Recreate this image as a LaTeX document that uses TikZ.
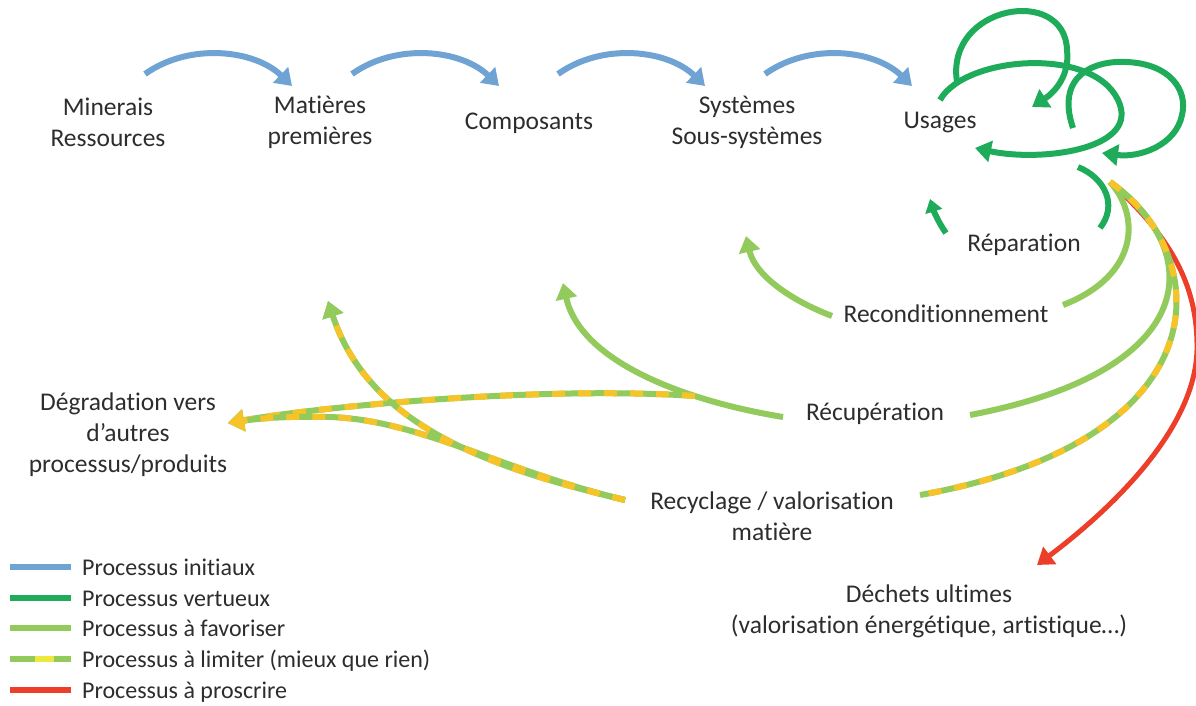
\documentclass[tikz,border=0pt]{standalone}
\usepackage{fontspec}
\setmainfont{Carlito}[Ligatures=NoCommon]
\usetikzlibrary{arrows.meta}
\definecolor{cblue}{RGB}{110,163,212}
\definecolor{cdgreen}{RGB}{30,172,90}
\definecolor{clgreen}{RGB}{146,202,92}
\definecolor{cyellow}{RGB}{246,196,40}
\definecolor{clyellow}{RGB}{238,232,60}
\definecolor{cred}{RGB}{236,62,40}
\definecolor{ctext}{RGB}{45,45,45}
\begin{document}
\begin{tikzpicture}[x=1pt,y=-1pt,
  lbl/.style={text=ctext,font=\fontsize{25.5}{31}\selectfont,align=center,inner sep=0pt},
  leglbl/.style={text=ctext,font=\fontsize{24}{28}\selectfont,anchor=base west,inner sep=0pt},
  arrowhd/.style={-{Triangle[length=16pt,width=21pt]}},
  smallhd/.style={-{Triangle[length=13pt,width=17pt]}},
  yhd/.style={-{Triangle[length=16pt,width=21pt,color=cyellow]}},
  ghd/.style={-{Triangle[length=16pt,width=21pt,color=clgreen]}},
  initarrow/.style={draw=cblue,line width=6pt,arrowhd},
  virtline/.style={draw=cdgreen,line width=6pt},
  virtarrow/.style={virtline,arrowhd},
  favline/.style={draw=clgreen,line width=6pt},
  favarrow/.style={favline,arrowhd},
  limbase/.style={draw=clgreen,line width=6pt},
  limdash/.style={draw=cyellow,line width=6pt,dash pattern=on 13pt off 13pt},
  banarrow/.style={draw=cred,line width=5pt,arrowhd},
  legline/.style={line width=6pt},
]
\useasboundingbox (0,0) rectangle (1196,705);

% ---------- labels ----------
\node[lbl] (min) at (108,122) {Minerais\\Ressources};
\node[lbl] (mat) at (320,122) {Matières\\premières};
\node[lbl] (comp) at (529,123) {Composants};
\node[lbl] (sys) at (747,122) {Systèmes\\Sous-systèmes};
\node[lbl] (use) at (940,123) {Usages};
\node[lbl] (rep) at (1024,245) {Réparation};
\node[lbl] (recond) at (946,314) {Reconditionnement};
\node[lbl] (recup) at (875,414) {Récupération};
\node[lbl] (recyc) at (772,516) {Recyclage / valorisation\\matière};
\node[lbl] (dech) at (929,611) {Déchets ultimes\\(valorisation énergétique, artistique…)};
\node[lbl] (degr) at (128,435) {Dégradation vers\\d’autres\\processus/produits};

% ---------- connector end points ----------
\coordinate (b1s) at (145,74);  \coordinate (b1e) at (292,86);
\coordinate (b2s) at (352,74);  \coordinate (b2e) at (499,86);
\coordinate (b3s) at (558,74);  \coordinate (b3e) at (705,86);
\coordinate (b4s) at (765,74);  \coordinate (b4e) at (912,86);

\coordinate (l1s) at (957,82);   \coordinate (l1e) at (1032,107);
\coordinate (l2s) at (940,100);  \coordinate (l2e) at (975,148);
\coordinate (l3s) at (1073,128); \coordinate (l3e) at (1102,153);
\coordinate (r1s) at (1078,167); \coordinate (r1e) at (1100,228);
\coordinate (r2s) at (946,233);  \coordinate (r2e) at (930,199);

\coordinate (jn) at (1110,182);
\coordinate (rc1e) at (1063,305);
\coordinate (rc2s) at (832,316); \coordinate (rc2e) at (746,236);
\coordinate (ru1e) at (970,415);
\coordinate (ru2s) at (783,417); \coordinate (ru2e) at (563,283);
\coordinate (ry1e) at (920,495);
\coordinate (rd1s) at (695,396);
\coordinate (degtip) at (228,423);
\coordinate (ry2s) at (625,500); \coordinate (ry2e) at (328,301);
\coordinate (dectip) at (1037,565);

% ---------- initial processes (blue) ----------
\foreach \s/\e in {b1s/b1e,b2s/b2e,b3s/b3e,b4s/b4e}
  \draw[initarrow] (\s) .. controls +(45,-32) and +(-37,-36) .. (\e);

% ---------- red ----------
\draw[banarrow] (jn) .. controls (1175,240) and (1198,290) .. (1197,350)
  .. controls (1195,430) and (1110,510) .. (dectip);

% ---------- light green (favoriser) ----------
\draw[favline] (jn) .. controls (1140,215) and (1140,275) .. (rc1e);
\draw[favarrow] (rc2s) .. controls (790,300) and (755,275) .. (rc2e);
\draw[favline] (jn) .. controls (1205,250) and (1205,370) .. (ru1e);
\draw[favarrow] (ru2s) .. controls (680,400) and (580,360) .. (ru2e);

% ---------- limiter (dashed green / yellow) ----------
\draw[limbase] (jn) .. controls (1215,255) and (1225,440) .. (ry1e);
\draw[limdash] (jn) .. controls (1215,255) and (1225,440) .. (ry1e);

\draw[limbase,arrowhd] (rd1s) .. controls (550,386) and (330,405) .. (degtip);
\draw[limdash,yhd] (rd1s) .. controls (550,386) and (330,405) .. (degtip);

\draw[limbase,arrowhd] (ry2s) .. controls (500,470) and (420,420) .. (330,417)
  .. controls (290,416) and (262,418) .. (degtip);
\draw[limdash,yhd] (ry2s) .. controls (500,470) and (420,420) .. (330,417)
  .. controls (290,416) and (262,418) .. (degtip);

\draw[limbase,arrowhd] (ry2s) .. controls (500,470) and (370,430) .. (ry2e);
\draw[limdash,ghd] (ry2s) .. controls (500,470) and (370,430) .. (ry2e);

% ---------- virtuous (dark green) ----------
\draw[virtarrow] (l1s) .. controls (945,5) and (1065,-15) .. (1067,50)
  .. controls (1070,75) and (1055,92) .. (l1e);
\draw[virtarrow] (l2s) .. controls (965,55) and (1100,45) .. (1120,105)
  .. controls (1135,150) and (1040,162) .. (l2e);
\draw[virtarrow] (l3s) .. controls (1055,75) and (1095,60) .. (1127,62)
  .. controls (1170,64) and (1188,90) .. (1182,115)
  .. controls (1176,145) and (1140,158) .. (l3e);
\draw[virtline] (r1s) .. controls (1105,178) and (1118,205) .. (r1e);
\draw[virtline,smallhd] (r2s) .. controls (940,225) and (934,212) .. (r2e);

% ---------- legend ----------
\coordinate (g1a) at (10,567); \coordinate (g1b) at (71,567);
\coordinate (g2a) at (10,598); \coordinate (g2b) at (71,598);
\coordinate (g3a) at (10,628); \coordinate (g3b) at (71,628);
\coordinate (g4a) at (10,659); \coordinate (g4b) at (71,659);
\coordinate (g4c) at (35,659); \coordinate (g4d) at (54,659);
\coordinate (g5a) at (10,690); \coordinate (g5b) at (71,690);
\draw[legline,cblue] (g1a) -- (g1b);
\draw[legline,cdgreen] (g2a) -- (g2b);
\draw[legline,clgreen] (g3a) -- (g3b);
\draw[legline,clgreen] (g4a) -- (g4b);
\draw[legline,clyellow] (g4c) -- (g4d);
\draw[legline,cred] (g5a) -- (g5b);
\node[leglbl] (t1) at (82,575) {Processus initiaux};
\node[leglbl] (t2) at (82,606) {Processus vertueux};
\node[leglbl] (t3) at (82,636) {Processus à favoriser};
\node[leglbl] (t4) at (82,667) {Processus à limiter (mieux que rien)};
\node[leglbl] (t5) at (82,698) {Processus à proscrire};
\end{tikzpicture}
\end{document}
